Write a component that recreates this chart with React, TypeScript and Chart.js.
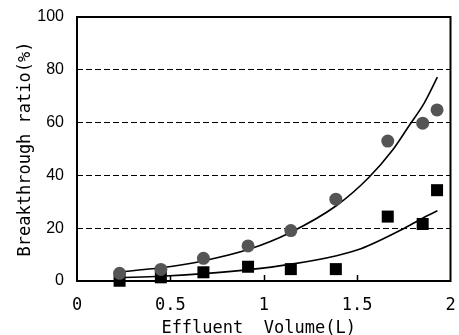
import React, { useEffect, useRef } from "react";
import { Chart, registerables } from "chart.js";

Chart.register(...registerables);

// Measured data
const volumeL = [0.228, 0.449, 0.677, 0.916, 1.145, 1.386, 1.664, 1.851, 1.928];
const seriesCircle = [2.9, 4.4, 8.6, 13.3, 19.1, 31, 53, 59.8, 64.8];
const seriesSquare = [0.1, 1.4, 3.3, 5.4, 4.5, 4.5, 24.4, 21.6, 34.4];

// Trend lines
const trendUpperX = [0.22, 0.45, 0.68, 0.92, 1.14, 1.39, 1.56, 1.69, 1.78, 1.86, 1.93];
const trendUpperY = [3.4, 5.0, 7.7, 12.0, 18.3, 28.6, 39.0, 49.6, 59.0, 67.5, 77.2];
const trendLowerX = [0.22, 0.45, 0.68, 0.92, 1.14, 1.39, 1.52, 1.74, 1.85, 1.93];
const trendLowerY = [1.3, 1.8, 2.8, 4.3, 6.3, 9.6, 12.2, 19.5, 23.8, 26.6];

const xTickValues = [0, 0.5, 1, 1.5, 2];
const yTickValues = [0, 20, 40, 60, 80, 100];

const xTitle = "Effluent  Volume(L) ";
const yTitle = "Breakthrough ratio(%)";

const MONO = "'DejaVu Sans Mono', monospace";
const SANS = "'Liberation Sans', Arial, sans-serif";

const frameAndTicks = {
  id: "frameAndTicks",
  beforeDatasetsDraw(chart: any) {
    const { ctx, chartArea } = chart;
    const xs = chart.scales.x;
    ctx.save();
    ctx.strokeStyle = "#000";
    ctx.lineWidth = 1.5;
    ctx.beginPath();
    for (const v of xTickValues) {
      if (v === xs.min || v === xs.max) continue;
      const px = Math.round(xs.getPixelForValue(v)) + 0.5;
      ctx.moveTo(px, chartArea.bottom);
      ctx.lineTo(px, chartArea.bottom - 6);
    }
    ctx.stroke();
    ctx.lineWidth = 2;
    ctx.strokeRect(
      chartArea.left,
      chartArea.top,
      chartArea.right - chartArea.left,
      chartArea.bottom - chartArea.top
    );
    ctx.restore();
  },
};

export default function App() {
  const ref = useRef<HTMLCanvasElement | null>(null);

  useEffect(() => {
    if (!ref.current) return;
    const chart = new Chart(ref.current, {
      type: "scatter",
      data: {
        datasets: [
          {
            type: "line",
            label: "trendUpper",
            data: trendUpperX.map((x, i) => ({ x, y: trendUpperY[i] })),
            borderColor: "#000",
            borderWidth: 1.6,
            pointRadius: 0,
            cubicInterpolationMode: "monotone",
            fill: false,
            clip: false,
            order: 3,
          } as any,
          {
            type: "line",
            label: "trendLower",
            data: trendLowerX.map((x, i) => ({ x, y: trendLowerY[i] })),
            borderColor: "#000",
            borderWidth: 1.6,
            pointRadius: 0,
            cubicInterpolationMode: "monotone",
            fill: false,
            clip: false,
            order: 3,
          } as any,
          {
            label: "circle",
            data: volumeL.map((x, i) => ({ x, y: seriesCircle[i] })),
            pointStyle: "circle",
            pointRadius: 6.5,
            backgroundColor: "#555555",
            borderColor: "#555555",
            borderWidth: 0,
            clip: false,
            order: 1,
          } as any,
          {
            label: "square",
            data: volumeL.map((x, i) => ({ x, y: seriesSquare[i] })),
            pointStyle: "rect",
            pointRadius: 8.5,
            backgroundColor: "#000",
            borderColor: "#000",
            borderWidth: 0,
            clip: false,
            order: 2,
          } as any,
        ],
      },
      options: {
        animation: false,
        responsive: false,
        maintainAspectRatio: false,
        events: [],
        layout: { padding: { left: 0, right: 5, top: 17, bottom: 0 } },
        plugins: {
          legend: { display: false },
          tooltip: { enabled: false },
          title: { display: false },
        },
        scales: {
          x: {
            type: "linear",
            min: 0,
            max: 2,
            afterFit: (s: any) => {
              s.height = 54;
              s.paddingLeft = 0;
              s.paddingRight = 0;
            },
            afterBuildTicks: (s: any) => {
              s.ticks = xTickValues.map((v) => ({ value: v }));
            },
            ticks: {
              color: "#000",
              font: { family: MONO, size: 17 },
              padding: 14,
              maxRotation: 0,
              autoSkip: false,
              callback: (v: any) => String(v),
            },
            grid: { display: false, drawTicks: false },
            border: { display: false },
            title: {
              display: true,
              text: xTitle,
              color: "#000",
              font: { family: MONO, size: 17, lineHeight: 1 },
              padding: { top: 0, bottom: -2 },
            },
          },
          y: {
            type: "linear",
            min: 0,
            max: 100,
            afterFit: (s: any) => {
              s.width = 77;
              s.paddingTop = 0;
              s.paddingBottom = 0;
            },
            afterBuildTicks: (s: any) => {
              s.ticks = yTickValues.map((v) => ({ value: v }));
            },
            ticks: {
              color: "#000",
              font: { family: SANS, size: 16 },
              padding: 13,
              autoSkip: false,
            },
            grid: {
              drawTicks: false,
              lineWidth: 1,
              color: (c: any) =>
                c.tick && (c.tick.value === 0 || c.tick.value === 100) ? "rgba(0,0,0,0)" : "#000",
            },
            border: { display: false, dash: [6, 3] },
            title: {
              display: true,
              text: yTitle,
              color: "#000",
              font: { family: MONO, size: 17, lineHeight: 1.2 },
              padding: { top: 15, bottom: 0 },
            },
          },
        },
      },
      plugins: [frameAndTicks],
    } as any);
    return () => chart.destroy();
  }, []);

  return (
    <div style={{ position: "fixed", left: 0, top: 0, width: 459, height: 335, background: "#fff" }}>
      <canvas ref={ref} width={459} height={335} style={{ width: 459, height: 335, display: "block" }} />
    </div>
  );
}
